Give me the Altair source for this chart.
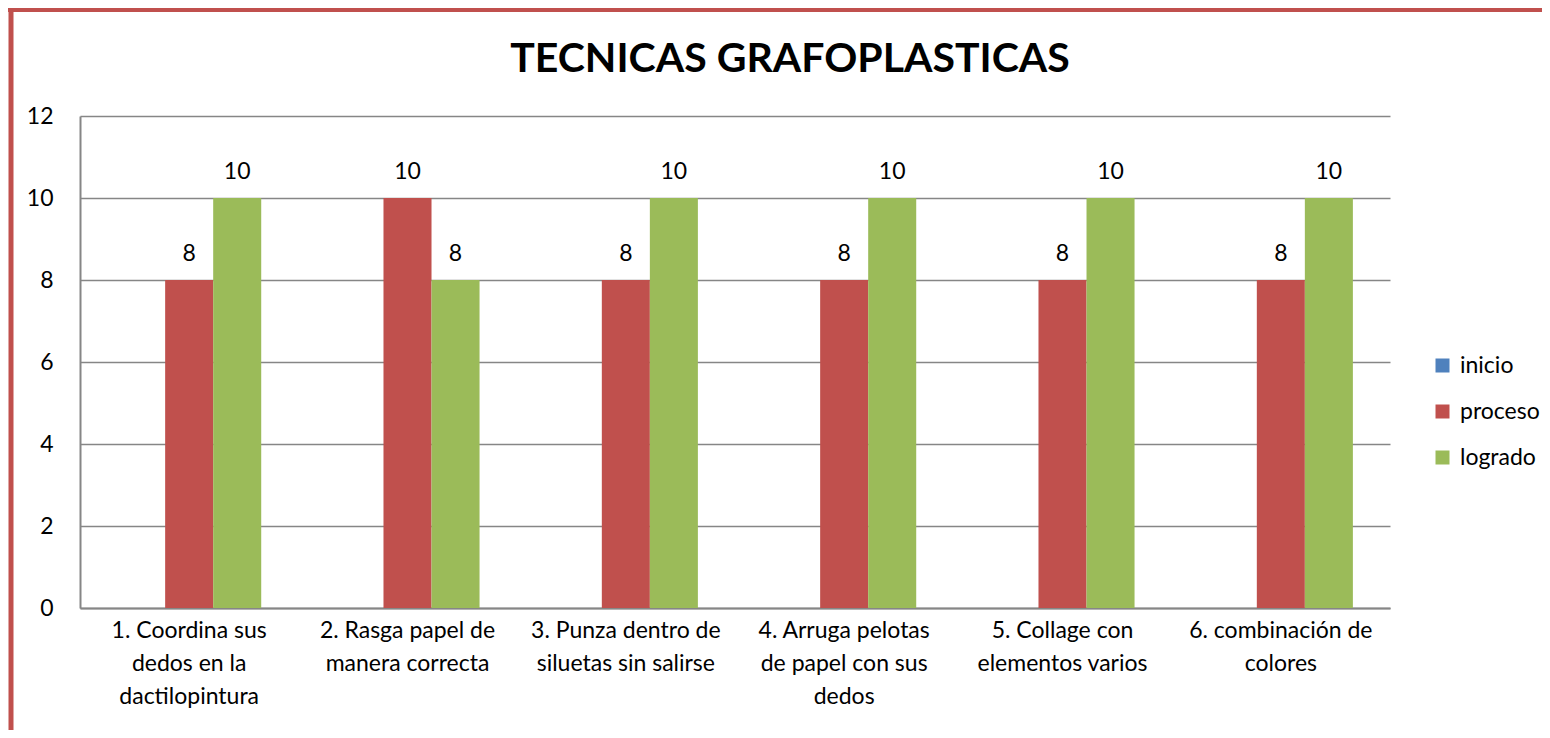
import altair as alt
import pandas as pd

categories = [
    "1. Coordina sus|dedos en la|dactilopintura",
    "2. Rasga papel de|manera correcta",
    "3. Punza dentro de|siluetas sin salirse",
    "4. Arruga pelotas|de papel con  sus|dedos",
    "5. Collage con|elementos varios",
    "6. combinación de|colores",
]
series = ["inicio", "proceso", "logrado"]
inicio = [0, 0, 0, 0, 0, 0]
proceso = [8, 10, 8, 8, 8, 8]
logrado = [10, 8, 10, 10, 10, 10]
colors = ["#4F81BD", "#C0504D", "#9BBB59"]
y_ticks = [0, 2, 4, 6, 8, 10, 12]
title_text = "TECNICAS GRAFOPLASTICAS"

rows = []
for name, vals in zip(series, [inicio, proceso, logrado]):
    for c, v in zip(categories, vals):
        rows.append({"cat": c, "serie": name, "valor": v})
df = pd.DataFrame(rows)

FONT = "Lato"
FS = 23
W, H = 1310, 492

x_enc = alt.X(
    "cat:N",
    sort=categories,
    scale=alt.Scale(paddingInner=0.34, paddingOuter=0.17),
    axis=alt.Axis(
        title=None,
        labelAngle=0,
        labelExpr="split(datum.label, '|')",
        labelFontSize=FS,
        labelFont=FONT,
        labelColor="#000000",
        labelLineHeight=33,
        labelBaseline="top",
        labelPadding=11,
        labelLimit=400,
        ticks=False,
        domainColor="#868686",
        domainWidth=2,
        grid=False,
    ),
)
xo_enc = alt.XOffset("serie:N", sort=series, scale=alt.Scale(paddingInner=0, paddingOuter=0))
y_enc = alt.Y(
    "valor:Q",
    scale=alt.Scale(domain=[0, 12], nice=False),
    axis=alt.Axis(
        title=None,
        values=y_ticks,
        labelFontSize=FS,
        labelFont=FONT,
        labelColor="#000000",
        labelPadding=27,
        ticks=False,
        domainColor="#868686",
        domainWidth=2,
        gridColor="#868686",
        gridWidth=1.5,
    ),
)

bars = alt.Chart(df).mark_bar().encode(
    x=x_enc,
    xOffset=xo_enc,
    y=y_enc,
    color=alt.Color(
        "serie:N",
        sort=series,
        scale=alt.Scale(domain=series, range=colors),
        legend=alt.Legend(
            title=None,
            orient="none",
            legendX=1351,
            legendY=238,
            symbolType="square",
            symbolSize=196,
            symbolStrokeWidth=0,
            labelFontSize=FS,
            labelFont=FONT,
            labelColor="#000000",
            labelOffset=6,
            rowPadding=22,
        ),
    ),
)

labels = alt.Chart(df).transform_filter("datum.valor > 0").mark_text(
    fontSize=FS, font=FONT, color="#000000", baseline="alphabetic", dy=-19
).encode(
    x=alt.X("cat:N", sort=categories),
    xOffset=alt.XOffset("serie:N", sort=series),
    y="valor:Q",
    text="valor:Q",
)

title = alt.Chart(pd.DataFrame({"t": [title_text]})).mark_text(
    fontSize=41, font=FONT, fontWeight="bold", color="#000000", baseline="alphabetic", align="center"
).encode(x=alt.value(710), y=alt.value(-44), text="t:N")

border_left = alt.Chart(pd.DataFrame({"a": [0]})).mark_rule(color="#C0504D", strokeWidth=5).encode(
    x=alt.value(-69), y=alt.value(-108), y2=alt.value(H + 122)
)
border_top = alt.Chart(pd.DataFrame({"a": [0]})).mark_rule(color="#C0504D", strokeWidth=4).encode(
    x=alt.value(-72), x2=alt.value(W + 152), y=alt.value(-106)
)

chart = alt.layer(bars, labels, title, border_left, border_top).properties(
    width=W,
    height=H,
    autosize=alt.AutoSizeParams(type="none"),
    padding={"left": 72, "top": 108, "right": 152, "bottom": 122},
).configure_view(stroke=None)

chart.save("out.html", embed_options={"renderer": "svg", "actions": False})
